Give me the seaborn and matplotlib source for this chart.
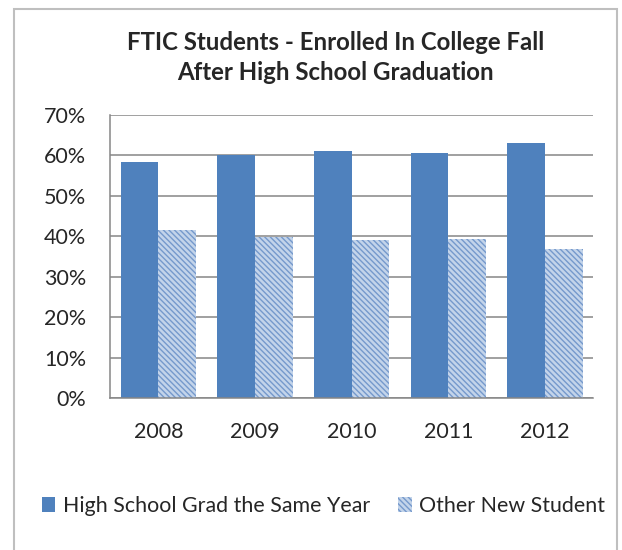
import pandas as pd
import matplotlib
matplotlib.use('Agg')
import matplotlib.pyplot as plt
import seaborn as sns
from matplotlib.patches import Patch, Rectangle
from matplotlib.ticker import FixedLocator, PercentFormatter

# values (percent)
years = ['2008', '2009', '2010', '2011', '2012']
same_year = [58.3, 60.2, 61.0, 60.7, 63.0]
other_new = [41.7, 39.8, 39.0, 39.3, 37.0]
series_names = ['High School Grad the Same Year', 'Other New Student']

df = pd.DataFrame({
    'year': years * 2,
    'pct': same_year + other_new,
    'series': [series_names[0]] * len(years) + [series_names[1]] * len(years),
})

blue = '#4F81BD'
light = '#C3D4EA'
stripe = '#7599CC'
grid_col = '#868686'
hatch = '\\' * 6

sns.set_style('white')
plt.rcParams['font.family'] = ['Lato', 'DejaVu Sans']
plt.rcParams['hatch.linewidth'] = 1.0

fig = plt.figure(figsize=(6.22, 5.5), dpi=100)
ax = fig.add_axes([0.1768, 0.2758, 0.7771, 0.5151])

sns.barplot(data=df, x='year', y='pct', hue='series', palette=[blue, light],
            width=0.78, gap=0, saturation=1, linewidth=0, legend=False, ax=ax)

# hatched second series
for bar in ax.containers[1]:
    bar.set_facecolor(light)
    bar.set_edgecolor(stripe)
    bar.set_hatch(hatch)
    bar.set_linewidth(0)

ax.set_ylim(0, 70)
ax.set_xlim(-0.5, 4.5)
ax.yaxis.set_major_locator(FixedLocator(range(0, 71, 10)))
ax.yaxis.set_major_formatter(PercentFormatter(decimals=0))
ax.grid(axis='y', color=grid_col, linewidth=1.1)
ax.set_axisbelow(True)
ax.set_xlabel('')
ax.set_ylabel('')

for side in ['top', 'right']:
    ax.spines[side].set_visible(False)
for side in ['left', 'bottom']:
    ax.spines[side].set_color(grid_col)
    ax.spines[side].set_linewidth(1.1)

ax.xaxis.set_minor_locator(FixedLocator([i - 0.5 for i in range(6)]))
ax.tick_params(axis='x', which='major', length=0, pad=17, labelsize=15.5)
ax.tick_params(axis='x', which='minor', length=6, width=1.1, color=grid_col, direction='out')
ax.tick_params(axis='y', length=6, width=1.1, color=grid_col, direction='out', pad=11, labelsize=15.5)

fig.text(0.539, 1 - 57.5 / 550, 'FTIC Students - Enrolled In College Fall\nAfter High School Graduation',
         ha='center', va='center', fontsize=17.3, fontweight='bold', linespacing=1.33)

handles = [Patch(facecolor=blue, linewidth=0),
           Patch(facecolor=light, edgecolor=stripe, hatch=hatch, linewidth=0)]
fig.legend(handles, series_names, loc='center', bbox_to_anchor=(0.52, 1 - 506 / 550), ncol=2,
           frameon=False, fontsize=15.4, handlelength=0.65, handleheight=0.65,
           handletextpad=0.35, columnspacing=1.3)

fig.add_artist(Rectangle((14 / 622, -0.01), (617 - 14) / 622, 1 - 9 / 550 + 0.01,
                         transform=fig.transFigure, fill=False, edgecolor='#BFBFBF', linewidth=1.5))

fig.savefig('out.png', dpi=100)
